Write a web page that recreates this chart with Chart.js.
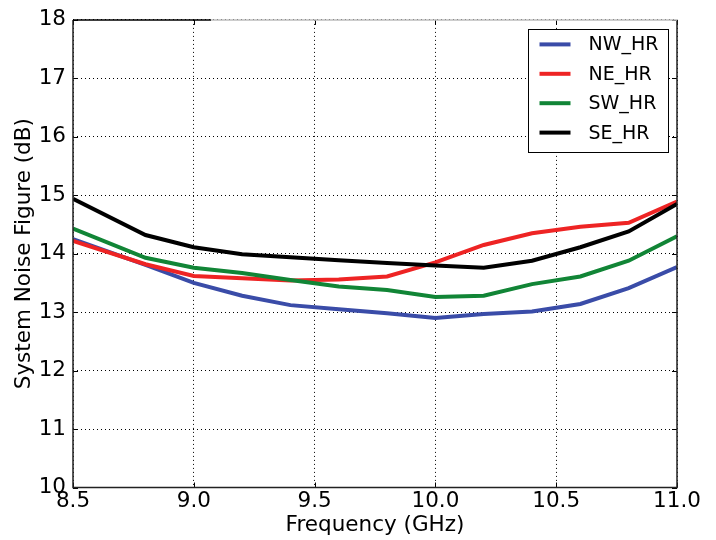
<!DOCTYPE html>
<html>
<head>
<meta charset="utf-8">
<script src="https://cdn.jsdelivr.net/npm/chart.js@4/dist/chart.umd.min.js"></script>
<style>
html,body{margin:0;padding:0;background:#fff;}
#wrap{width:716px;height:540px;position:relative;}
</style>
</head>
<body>
<div id="wrap"><canvas id="c" width="716" height="540"></canvas></div>
<script>
// Data
const freqs = [8.5, 8.8, 9.0, 9.2, 9.4, 9.6, 9.8, 10.0, 10.2, 10.4, 10.6, 10.8, 11.0];
const nwHR = [14.25, 13.81, 13.50, 13.28, 13.12, 13.05, 12.98, 12.90, 12.97, 13.01, 13.14, 13.41, 13.77];
const neHR = [14.22, 13.82, 13.62, 13.58, 13.54, 13.56, 13.61, 13.85, 14.15, 14.35, 14.46, 14.53, 14.89];
const swHR = [14.43, 13.93, 13.76, 13.67, 13.55, 13.44, 13.38, 13.26, 13.28, 13.48, 13.61, 13.88, 14.30];
const seHR = [14.94, 14.32, 14.11, 13.99, 13.94, 13.89, 13.84, 13.80, 13.76, 13.88, 14.11, 14.38, 14.85];
const seriesNames = ['NW_HR', 'NE_HR', 'SW_HR', 'SE_HR'];
const xTicks = [8.5, 9.0, 9.5, 10.0, 10.5, 11.0];
const yTicks = [10, 11, 12, 13, 14, 15, 16, 17, 18];

const colors = ['#3a4ca8', '#ee2424', '#118536', '#000000'];
const seriesValues = [nwHR, neHR, swHR, seHR];

const FONT = 'DejaVu Sans';
const AXIS_FONT = 21.5;

const datasets = seriesValues.map((vals, i) => ({
  label: seriesNames[i],
  data: freqs.map((f, j) => ({x: f, y: vals[j]})),
  borderColor: colors[i],
  backgroundColor: colors[i],
  borderWidth: 4,
  pointRadius: 0,
  tension: 0,
  fill: false,
  order: 3 - i
}));

const framePlugin = {
  id: 'frame',
  afterDatasetsDraw(chart) {
    const {ctx, chartArea: a, scales} = chart;
    ctx.save();
    // inner ticks on all four sides
    ctx.strokeStyle = '#000';
    ctx.lineWidth = 1;
    const tl = 5;
    xTicks.forEach(v => {
      const px = Math.round(scales.x.getPixelForValue(v)) + 0.5;
      ctx.beginPath();
      ctx.moveTo(px, a.bottom); ctx.lineTo(px, a.bottom - tl);
      ctx.moveTo(px, a.top); ctx.lineTo(px, a.top + tl);
      ctx.stroke();
    });
    yTicks.forEach(v => {
      const py = Math.round(scales.y.getPixelForValue(v)) + 0.5;
      ctx.beginPath();
      ctx.moveTo(a.left, py); ctx.lineTo(a.left + tl, py);
      ctx.moveTo(a.right, py); ctx.lineTo(a.right - tl, py);
      ctx.stroke();
    });
    // frame
    ctx.lineWidth = 1.5;
    ctx.strokeStyle = '#222';
    ctx.beginPath();
    ctx.moveTo(a.left, a.top);
    ctx.lineTo(a.left, a.bottom);
    ctx.lineTo(a.right, a.bottom);
    ctx.lineTo(a.right, a.top);
    ctx.stroke();
    ctx.strokeStyle = '#000';
    ctx.beginPath();
    ctx.moveTo(a.left, a.top);
    ctx.lineTo(a.left + 138, a.top);
    ctx.stroke();
    ctx.strokeStyle = '#bdbdbd';
    ctx.beginPath();
    ctx.moveTo(a.left + 138, a.top);
    ctx.lineTo(a.right, a.top);
    ctx.stroke();

    // legend
    const w = 140, h = 123;
    const lx = a.right - 9.5 - w, ly = a.top + 9.5;
    ctx.fillStyle = '#fff';
    ctx.fillRect(lx, ly, w, h);
    ctx.strokeStyle = '#000';
    ctx.lineWidth = 1;
    ctx.strokeRect(Math.round(lx) + 0.5, Math.round(ly) + 0.5, w, h);
    ctx.font = '19px "' + FONT + '"';
    ctx.textBaseline = 'middle';
    ctx.textAlign = 'left';
    chart.data.datasets.forEach((ds, i) => {
      const ry = ly + 15 + i * 29.4;
      ctx.strokeStyle = ds.borderColor;
      ctx.lineWidth = 4;
      ctx.beginPath();
      ctx.moveTo(lx + 12, ry);
      ctx.lineTo(lx + 43, ry);
      ctx.stroke();
      ctx.fillStyle = '#000';
      ctx.fillText(ds.label, lx + 61, ry + 1);
    });
    ctx.restore();
  }
};

new Chart(document.getElementById('c'), {
  type: 'line',
  data: {datasets},
  options: {
    responsive: false,
    animation: false,
    devicePixelRatio: 1,
    layout: {padding: {top: 19.5, right: 39, left: 0, bottom: 0}},
    plugins: {legend: {display: false}, tooltip: {enabled: false}},
    scales: {
      x: {
        type: 'linear',
        min: 8.5, max: 11.0,
        afterBuildTicks(scale) { scale.ticks = xTicks.map(v => ({value: v})); },
        afterFit(scale) { scale.height = 52.5; },
        border: {display: false, dash: [1, 3]},
        grid: {color: '#000', lineWidth: 1, drawTicks: false},
        ticks: {
          color: '#000', padding: 1,
          font: {family: FONT, size: AXIS_FONT},
          callback: v => Number(v).toFixed(1)
        },
        title: {
          display: true, text: 'Frequency (GHz)', color: '#000',
          font: {family: FONT, size: AXIS_FONT}, padding: {top: 0, bottom: 2}
        }
      },
      y: {
        min: 10, max: 18,
        afterBuildTicks(scale) { scale.ticks = yTicks.map(v => ({value: v})); },
        afterFit(scale) { scale.width = 73; },
        border: {display: false, dash: [1, 3]},
        grid: {color: '#000', lineWidth: 1, drawTicks: false},
        ticks: {
          color: '#000', padding: 7,
          font: {family: FONT, size: AXIS_FONT},
          callback: v => String(v)
        },
        title: {
          display: true, text: 'System Noise Figure (dB)', color: '#000',
          font: {family: FONT, size: AXIS_FONT}, padding: {top: 12, bottom: 0}
        }
      }
    }
  },
  plugins: [framePlugin]
});
</script>
</body>
</html>
